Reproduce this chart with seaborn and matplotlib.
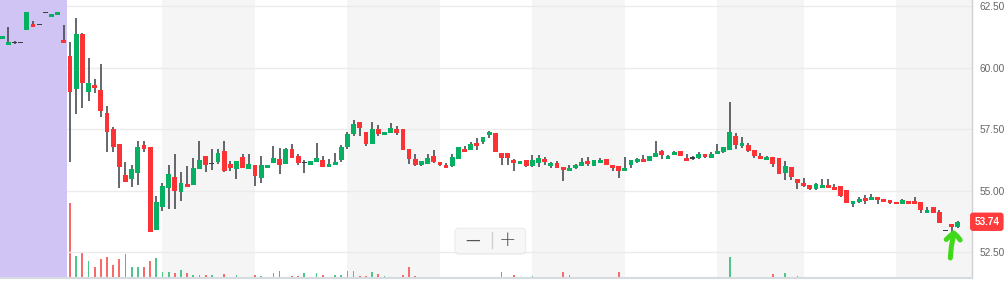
import numpy as np
import pandas as pd
import matplotlib
matplotlib.use("Agg")
import matplotlib.pyplot as plt
from matplotlib.patches import FancyBboxPatch
from matplotlib.lines import Line2D
from matplotlib.transforms import IdentityTransform, blended_transform_factory
import seaborn as sns

# ---------------- data ----------------
opens = [61.17, 60.93, 61.03, 61.03, 61.54, 61.77, 61.76, 62.24, 62.07, 62.15, 61.11,
         60.47, 59.14, 61.36, 59.02, 59.29, 59.09, 58.14, 57.49, 56.90, 55.64,
         55.49, 55.73, 56.86, 56.78, 53.42, 54.35, 55.12, 55.56, 54.96, 55.27,
         55.25, 55.90, 56.41, 56.11, 56.18, 56.61, 56.09, 55.90, 56.37, 55.90,
         56.04, 55.53, 55.94, 56.14, 56.29, 56.10, 56.69, 56.41, 56.13, 56.04,
         56.17, 56.25, 55.96, 56.04, 56.25, 56.77, 57.32, 57.79, 57.38, 56.91,
         57.51, 57.28, 57.36, 57.51, 57.51, 56.69, 56.29, 56.06, 56.10, 56.41,
         56.18, 56.04, 56.02, 56.29, 56.69, 56.67, 56.94, 56.99, 57.25, 57.34,
         56.53, 56.53, 56.25, 56.10, 56.25, 56.02, 56.14, 56.29, 56.02, 56.13,
         55.96, 55.81, 55.92, 56.02, 56.21, 56.02, 56.14, 56.29, 56.04, 56.00,
         55.81, 56.04, 56.18, 56.29, 56.22, 56.37, 56.61, 56.29, 56.45, 56.61,
         56.33, 56.33, 56.34, 56.49, 56.34, 56.49, 56.57, 56.65, 57.22, 56.82,
         56.86, 56.65, 56.41, 56.25, 56.37, 56.33, 55.72, 55.96, 55.48, 55.31,
         55.24, 55.07, 55.12, 55.24, 55.16, 55.20, 55.03, 54.47, 54.54, 54.70,
         54.63, 54.75, 54.66, 54.62, 54.55, 54.47, 54.58, 54.58, 54.55, 54.11,
         54.35, 54.15, 53.40, 53.65, 53.53]
highs = [61.28, 61.63, 61.09, 61.03, 62.26, 61.90, 61.76, 62.24, 62.18, 62.26, 61.73,
         61.02, 62.00, 61.42, 60.38, 59.52, 60.13, 58.45, 57.60, 56.90, 56.15,
         56.04, 57.02, 57.02, 56.78, 54.77, 55.31, 56.04, 56.48, 55.75, 55.99,
         56.32, 57.00, 56.41, 56.71, 56.71, 57.00, 56.22, 56.21, 56.50, 56.48,
         56.04, 56.43, 56.04, 56.80, 56.72, 56.72, 56.90, 56.49, 56.25, 56.21,
         56.94, 56.40, 56.27, 56.52, 56.84, 57.37, 57.87, 57.79, 57.38, 57.78,
         57.67, 57.40, 57.75, 57.62, 57.51, 56.69, 56.48, 56.19, 56.49, 56.65,
         56.18, 56.13, 56.49, 56.77, 56.83, 56.99, 57.14, 57.18, 57.41, 57.34,
         56.53, 56.53, 56.28, 56.21, 56.25, 56.44, 56.44, 56.38, 56.18, 56.21,
         55.96, 56.03, 56.07, 56.32, 56.36, 56.25, 56.33, 56.29, 56.04, 56.00,
         56.37, 56.25, 56.33, 56.45, 56.41, 57.02, 56.65, 56.45, 56.61, 56.61,
         56.50, 56.41, 56.57, 56.49, 56.57, 56.90, 56.77, 58.60, 57.34, 57.18,
         56.94, 56.65, 56.53, 56.41, 56.37, 56.33, 56.21, 55.96, 55.48, 55.52,
         55.24, 55.30, 55.46, 55.46, 55.27, 55.20, 55.03, 54.58, 54.75, 54.83,
         54.87, 54.75, 54.66, 54.62, 54.55, 54.66, 54.58, 54.75, 54.55, 54.35,
         54.35, 54.22, 53.40, 53.65, 53.77]
lows = [61.17, 60.93, 60.96, 61.03, 61.54, 61.66, 61.76, 62.24, 62.07, 62.12, 61.01,
        56.15, 58.10, 58.35, 58.64, 58.95, 58.01, 56.56, 56.56, 55.12, 55.37,
        55.16, 55.22, 56.56, 53.34, 53.42, 54.16, 54.24, 54.24, 54.57, 55.16,
        55.25, 55.90, 55.75, 55.83, 56.07, 55.77, 55.79, 55.46, 55.91, 55.90,
        55.19, 55.33, 55.94, 56.14, 55.68, 56.10, 56.34, 56.06, 55.71, 56.04,
        56.17, 55.98, 55.96, 56.04, 56.17, 56.68, 57.22, 57.22, 56.83, 56.91,
        57.22, 57.25, 57.36, 57.25, 56.67, 56.07, 55.99, 56.02, 56.10, 56.11,
        55.99, 55.94, 55.98, 56.29, 56.57, 56.67, 56.64, 56.88, 57.14, 56.58,
        56.03, 56.03, 55.80, 56.10, 55.96, 55.96, 55.95, 56.03, 55.91, 55.94,
        55.38, 55.81, 55.89, 56.02, 55.99, 56.02, 56.14, 56.06, 55.81, 55.53,
        55.81, 55.94, 56.14, 56.17, 56.22, 56.37, 56.30, 56.29, 56.45, 56.41,
        56.21, 56.25, 56.29, 56.34, 56.34, 56.49, 56.53, 56.65, 56.68, 56.73,
        56.57, 56.32, 56.29, 56.25, 55.96, 55.68, 55.42, 55.44, 55.06, 55.15,
        55.03, 55.04, 55.12, 55.12, 55.04, 54.75, 54.51, 54.35, 54.51, 54.47,
        54.63, 54.47, 54.55, 54.47, 54.45, 54.47, 54.47, 54.47, 54.11, 54.11,
        54.08, 53.70, 53.40, 53.34, 53.47]
closes = [61.28, 61.04, 61.03, 61.03, 62.26, 61.66, 61.76, 62.24, 62.18, 62.26, 61.01,
          59.02, 61.36, 59.39, 59.37, 59.18, 58.25, 57.40, 56.76, 55.98, 55.37,
          55.88, 56.78, 56.68, 53.34, 54.54, 55.19, 55.68, 55.00, 55.31, 55.16,
          55.92, 56.25, 56.03, 56.11, 56.53, 55.81, 55.94, 56.21, 55.91, 56.09,
          55.60, 56.04, 56.04, 56.33, 56.06, 56.69, 56.34, 56.14, 56.13, 56.21,
          56.33, 55.98, 56.08, 56.17, 56.77, 57.30, 57.71, 57.53, 56.91, 57.51,
          57.32, 57.38, 57.55, 57.36, 56.67, 56.29, 56.06, 56.19, 56.33, 56.18,
          56.06, 55.94, 56.36, 56.77, 56.57, 56.91, 56.83, 57.18, 57.38, 56.58,
          56.34, 56.34, 56.14, 56.21, 56.02, 56.25, 56.33, 56.18, 56.13, 55.94,
          55.84, 55.92, 56.04, 56.17, 56.10, 56.25, 56.25, 56.06, 55.94, 55.81,
          55.92, 56.25, 56.29, 56.17, 56.41, 56.53, 56.45, 56.41, 56.57, 56.41,
          56.21, 56.33, 56.49, 56.38, 56.49, 56.61, 56.77, 57.38, 56.86, 56.94,
          56.61, 56.41, 56.29, 56.37, 56.09, 55.68, 56.00, 55.56, 55.31, 55.19,
          55.07, 55.27, 55.24, 55.12, 55.04, 54.77, 54.51, 54.58, 54.66, 54.59,
          54.75, 54.63, 54.55, 54.51, 54.45, 54.62, 54.47, 54.47, 54.20, 54.22,
          54.08, 53.70, 53.40, 53.54, 53.74]
volumes = [0, 0, 0, 0, 0, 0, 0, 0, 0, 0, 0,
           750, 217, 250, 170, 110, 190, 210, 130, 190, 237,
           110, 110, 110, 170, 200, 60, 60, 50, 80, 50,
           30, 30, 30, 30, 10, 40, 5, 30, 5, 5,
           30, 20, 5, 43, 63, 5, 20, 20, 43, 5,
           43, 30, 10, 30, 30, 70, 70, 20, 20, 60,
           40, 20, 10, 5, 30, 110, 20, 3, 3, 3,
           10, 3, 3, 3, 3, 3, 3, 3, 3, 10,
           53, 3, 30, 3, 10, 20, 3, 3, 3, 3,
           53, 30, 3, 3, 3, 3, 3, 3, 3, 53,
           3, 3, 3, 3, 3, 3, 3, 3, 3, 3,
           3, 3, 3, 3, 3, 3, 3, 210, 10, 3,
           3, 3, 3, 3, 40, 10, 50, 3, 20, 3,
           3, 3, 3, 3, 3, 10, 3, 3, 3, 3,
           3, 3, 3, 3, 3, 3, 3, 3, 10, 3,
           3, 10, 3, 3, 3]
price_ticks = [52.5, 55.0, 57.5, 60.0, 62.5]
premarket_end = 10.5
session_shade = [(26, 41), (56, 71), (86, 101), (116, 130), (145, 160)]
last_price = 53.74

# ---------------- style ----------------
sns.set_theme(style="white")
plt.rcParams['font.family'] = ['Liberation Sans', 'DejaVu Sans']

GREEN = '#05b062'
RED = '#fd3234'
WICK = '#3a3f45'
VGREEN = '#4ec58b'
VRED = '#f86b6b'

W, H = 1008, 285
fig = plt.figure(figsize=(W / 100, H / 100), dpi=100)
fig.patch.set_facecolor('white')

axv = fig.add_axes([0, (H - 277.7) / H, 971.7 / W, 277.7 / H])
ax = axv.twinx()

o = np.array(opens); h = np.array(highs); l = np.array(lows); c = np.array(closes)
v = np.array(volumes, dtype=float)
n = len(o)
idx = np.arange(n)
xlim = (-0.357, 157.26)

# background sessions
axv.set_facecolor('white')
for a, b in session_shade:
    axv.axvspan(a, min(b, xlim[1]), color='#f5f5f5', lw=0, zorder=0)

# volume bars (seaborn)
df = pd.DataFrame({'i': idx, 'vol': v, 'dir': np.where(c >= o, 'up', 'down')})
sns.barplot(data=df, x='i', y='vol', hue='dir', palette={'up': VGREEN, 'down': VRED},
            native_scale=True, width=0.28, dodge=False, legend=False, ax=axv,
            saturation=1, errorbar=None, linewidth=0)
axv.set_ylim(0, max(volumes) * 277.7 / 75)
axv.set_xlim(xlim)
axv.set_yticks([]); axv.set_xticks([])
axv.set_xlabel(''); axv.set_ylabel('')
for s in axv.spines.values():
    s.set_visible(False)

# candles
ax.set_xlim(xlim)
ax.set_ylim(51.469, 62.744)
# pre-market shading sits above the grid lines
ax.axvspan(xlim[0], premarket_end, color='#cfc4f4', lw=0, zorder=1)
doji = np.isclose(o, c)
body_h = np.where(doji, 0.045, np.maximum(np.abs(c - o), 0.045))
body_lo = np.where(doji, o - 0.0225, np.minimum(o, c))
colors = np.where(doji, WICK, np.where(c > o, GREEN, RED))
ax.vlines(idx, l, h, color=WICK, lw=1.1, zorder=2)
ax.bar(idx, body_h, bottom=body_lo, width=0.78, color=colors, lw=0, zorder=3)

ax.set_yticks(price_ticks)
ax.set_yticklabels([f"{t:.2f}" for t in price_ticks])
ax.tick_params(axis='y', right=True, left=False, length=0, pad=5.5,
               labelsize=7.3, labelcolor='#666666')
ax.set_xticks([])
ax.grid(axis='y', color='#ebebeb', lw=1)
ax.set_axisbelow(True)
for k in ['top', 'left']:
    ax.spines[k].set_visible(False)
ax.spines['right'].set_color('#d0d0d0'); ax.spines['right'].set_linewidth(1)
ax.spines['bottom'].set_color('#d6dae1'); ax.spines['bottom'].set_linewidth(1.5)

# last price tag
tr = blended_transform_factory(fig.transFigure, ax.transData)
ax.text(986.8 / W, last_price, f"{last_price:.2f}", transform=tr, ha='center', va='center',
        fontsize=7.2, fontweight='bold', color='white', zorder=10,
        bbox=dict(boxstyle='round,pad=0.42,rounding_size=0.3', fc='#ff3b3b', ec='none'))

# zoom control (pixel coords, origin bottom-left)
idt = IdentityTransform()
fig.add_artist(FancyBboxPatch((455, 30.2), 70.7, 25, boxstyle='round,pad=0,rounding_size=4',
                              fc='#e2e2e2', ec='none', transform=idt, alpha=0.6))
fig.add_artist(FancyBboxPatch((455, 31.7), 70.7, 25, boxstyle='round,pad=0,rounding_size=4',
                              fc='#f7f7f7', ec='#ececec', lw=0.8, transform=idt))
fig.add_artist(Line2D([491.7, 491.7], [H - 248, H - 232], color='#cfcfcf', lw=1, transform=idt))
fig.text(472.5 / W, (H - 240) / H, "\u2014", ha='center', va='center', fontsize=10.5,
         color='#555555', family='DejaVu Sans')
fig.text(507.7 / W, (H - 240.5) / H, "+", ha='center', va='center', fontsize=15,
         color='#555555', family='DejaVu Sans', fontweight='light')

# hand-drawn green arrow
ag = '#3fd81a'
fig.add_artist(Line2D([950.3, 951.3, 953.6], [H - 258, H - 247, H - 234.5], color=ag, lw=3.6,
                      solid_capstyle='round', solid_joinstyle='round', transform=idt))
fig.add_artist(Line2D([946.2, 950.5, 953.6, 957.0, 960.2], [H - 239.5, H - 235.5, H - 233, H - 236, H - 240],
                      color=ag, lw=3.6, solid_capstyle='round', solid_joinstyle='round', transform=idt))

fig.savefig('out.png', dpi=100)
